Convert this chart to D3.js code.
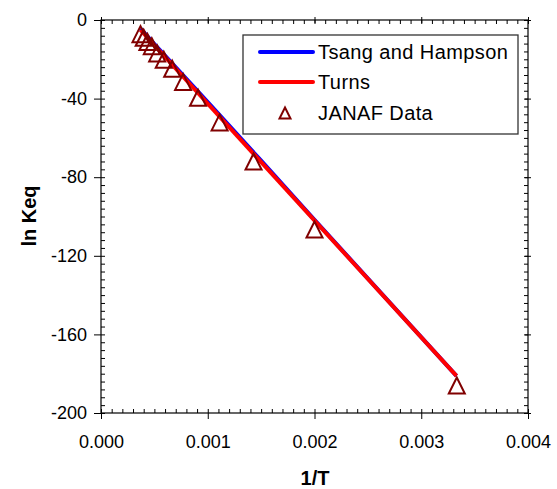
<!DOCTYPE html>
<html>
<head>
<meta charset="utf-8">
<script src="https://cdn.jsdelivr.net/npm/d3@7"></script>
<style>
  html, body { margin: 0; padding: 0; background: #fff; }
  svg { display: block; font-family: "Liberation Sans", Arial, sans-serif; }
</style>
</head>
<body>
<svg id="chart" width="557" height="489"></svg>
<script>
// JANAF equilibrium data: 1/T (1/K) and ln Keq
const janafInvT = [0.00037, 0.0004, 0.000435, 0.000476, 0.000526, 0.000588, 0.000667,
                   0.000769, 0.000909, 0.001111, 0.001429, 0.002, 0.003333];
const janafLnK  = [-7.2, -9.0, -11.2, -13.3, -17.0, -20.2, -24.8,
                   -31.5, -39.6, -52.1, -72.0, -106.6, -186.0];

// Rate-constant based fits
const tsangInvT = [0.00037, 0.0005, 0.001, 0.0015, 0.002, 0.00333];
const tsangLnK  = [-4.4, -12.2, -41.8, -71.6, -101.7, -181.1];
const turnsInvT = [0.00037, 0.00333];
const turnsLnK  = [-5.1, -181.1];

const xTicks = [0, 0.001, 0.002, 0.003, 0.004];
const yTicks = [0, -40, -80, -120, -160, -200];

const seriesNames = ["Tsang and Hampson", "Turns", "JANAF Data"];
const lineColors = ["#0000ff", "#ff0000"];
const markerColor = "#800000";

const svg = d3.select("#chart");
const plotL = 101, plotR = 528, plotT = 20, plotB = 413;

const x = d3.scaleLinear().domain([0, 0.004]).range([plotL, plotR]);
const y = d3.scaleLinear().domain([-200, 0]).range([plotB, plotT]);

// Axes: major ticks outside, minor ticks inside
const xMinor = d3.range(0, 0.00401, 0.0001);
const yMinor = d3.range(-200, 0.1, 4);

const gx = svg.append("g").attr("transform", `translate(0,${plotB})`);
gx.call(d3.axisBottom(x).tickValues(xMinor).tickSize(-4).tickFormat(""))
  .call(g => g.select(".domain").remove());
gx.append("g").call(d3.axisBottom(x).tickValues(xTicks).tickSize(6).tickPadding(16)
    .tickFormat(d3.format(".3f")))
  .call(g => g.select(".domain").remove())
  .call(g => g.selectAll("text").attr("font-size", 18).attr("fill", "#000")
    .attr("font-family", "Liberation Sans, Arial, sans-serif"));

const gy = svg.append("g").attr("transform", `translate(${plotL},0)`);
gy.call(d3.axisLeft(y).tickValues(yMinor).tickSize(-4).tickFormat(""))
  .call(g => g.select(".domain").remove());
gy.append("g").call(d3.axisLeft(y).tickValues(yTicks).tickSize(7).tickPadding(7)
    .tickFormat(d => String(d)))
  .call(g => g.select(".domain").remove())
  .call(g => g.selectAll("text").attr("font-size", 18).attr("fill", "#000")
    .attr("font-family", "Liberation Sans, Arial, sans-serif"));

const gt = svg.append("g").attr("transform", `translate(0,${plotT})`);
gt.call(d3.axisTop(x).tickValues(xMinor).tickSize(-4).tickFormat(""))
  .call(g => g.select(".domain").remove());
gt.append("g").call(d3.axisTop(x).tickValues(xTicks).tickSize(3).tickFormat(""))
  .call(g => g.select(".domain").remove());
gt.append("g").call(d3.axisTop(x).tickValues(xTicks).tickSize(-3).tickFormat(""))
  .call(g => g.select(".domain").remove());

const gr = svg.append("g").attr("transform", `translate(${plotR},0)`);
gr.call(d3.axisRight(y).tickValues(yMinor).tickSize(-4).tickFormat(""))
  .call(g => g.select(".domain").remove());
gr.append("g").call(d3.axisRight(y).tickValues(yTicks).tickSize(3).tickFormat(""))
  .call(g => g.select(".domain").remove());
gr.append("g").call(d3.axisRight(y).tickValues(yTicks).tickSize(-3).tickFormat(""))
  .call(g => g.select(".domain").remove());

svg.selectAll(".tick line").attr("stroke", "#000").attr("stroke-width", 1);

// Frame
svg.append("rect")
  .attr("x", plotL).attr("y", plotT)
  .attr("width", plotR - plotL).attr("height", plotB - plotT)
  .attr("fill", "none").attr("stroke", "#000").attr("stroke-width", 1.2);

// Fit lines
const line = d3.line().x(d => x(d[0])).y(d => y(d[1]));
const tsang = tsangInvT.map((v, i) => [v, tsangLnK[i]]);
const turns = turnsInvT.map((v, i) => [v, turnsLnK[i]]);

svg.append("path").datum(tsang).attr("d", line)
  .attr("fill", "none").attr("stroke", lineColors[0]).attr("stroke-width", 4);
svg.append("path").datum(turns).attr("d", line)
  .attr("fill", "none").attr("stroke", lineColors[1]).attr("stroke-width", 4);

// Triangle markers (centered on the bounding box)
const tri = s => `M0,${-s}L${s},${s}L${-s},${s}Z`;
svg.append("g").selectAll("path")
  .data(janafInvT.map((v, i) => [v, janafLnK[i]]))
  .join("path")
  .attr("transform", d => `translate(${x(d[0])},${y(d[1])})`)
  .attr("d", tri(8))
  .attr("fill", "none").attr("stroke", markerColor).attr("stroke-width", 2)
  .attr("stroke-linejoin", "miter");

// Legend
const lg = svg.append("g");
lg.append("rect").attr("x", 243).attr("y", 35).attr("width", 275).attr("height", 99)
  .attr("fill", "#fff").attr("stroke", "#333").attr("stroke-width", 1.3);
const rows = [52, 82, 113];
lg.selectAll("line.lgline").data(lineColors).join("line")
  .attr("x1", 260).attr("x2", 313)
  .attr("y1", (d, i) => rows[i]).attr("y2", (d, i) => rows[i])
  .attr("stroke", d => d).attr("stroke-width", 4).attr("stroke-linecap", "round");
lg.append("path").attr("transform", `translate(285,${rows[2]})`).attr("d", tri(5.5))
  .attr("fill", "none").attr("stroke", markerColor).attr("stroke-width", 2);
lg.selectAll("text").data(seriesNames).join("text")
  .attr("x", 318).attr("y", (d, i) => rows[i] + 7)
  .attr("font-size", 20).attr("letter-spacing", 0.4).attr("fill", "#000").text(d => d);

// Axis titles
svg.append("text").attr("x", 315).attr("y", 485).attr("text-anchor", "middle")
  .attr("font-size", 20).attr("font-weight", "bold").text("1/T");
svg.append("text").attr("transform", "translate(36,216) rotate(-90)")
  .attr("text-anchor", "middle").attr("font-size", 20).attr("font-weight", "bold")
  .text("ln Keq");
</script>
</body>
</html>
